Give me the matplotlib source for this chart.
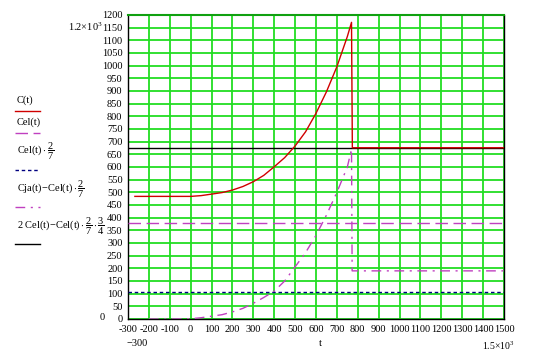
import matplotlib
matplotlib.use("Agg")
import matplotlib.pyplot as plt

plt.rcParams['font.family'] = ['Liberation Serif', 'DejaVu Serif']
plt.rcParams['mathtext.fontset'] = 'custom'
plt.rcParams['mathtext.rm'] = 'Liberation Serif'
plt.rcParams['mathtext.it'] = 'Liberation Serif:italic'

# C(t)
t_c = [-267, -200, -100, 0, 50, 100, 150, 200, 250, 300, 350, 400, 450, 500,
       550, 600, 650, 700, 750, 770, 772, 774, 900, 1100, 1300, 1500]
c_vals = [484, 484, 484, 484, 487, 493, 499, 509, 523, 542, 567, 601, 637, 683,
          739, 812, 897, 996, 1115, 1171, 925, 676, 676, 676, 676, 676]

# Cja(t) - Cel(t)*2/7
t_d = [-200, -100, 0, 50, 100, 150, 200, 250, 300, 350, 400, 450, 500, 550,
       600, 650, 700, 750, 770, 773, 900, 1100, 1300, 1500]
d_vals = [0, 0, 1, 5, 11, 17, 28, 42, 62, 85, 110, 150, 206, 262,
          330, 410, 500, 600, 670, 190, 190, 190, 190, 190]

t_flat = [-300, 1500]
cel = [378, 378]
cel_27 = [108, 108]
black = [674, 674]

xticks = list(range(-300, 1501, 100))
yticks = list(range(0, 1201, 50))

fig = plt.figure(figsize=(5.34, 3.55), dpi=100)
ax = fig.add_axes([128 / 534, 1 - 319 / 355, 376 / 534, 304 / 355])

green = '#22dd22'
ax.plot(t_c, c_vals, color='#d00000', lw=1.0, zorder=4)
ax.plot(t_flat, cel, color='#c040c0', lw=1.0, dashes=(9, 4), zorder=3)
ax.plot(t_flat, cel_27, color='#000080', lw=1.0, dashes=(2.5, 2), zorder=3)
ax.plot(t_d, d_vals, color='#c040c0', lw=1.0, dashes=(7, 4, 1.5, 4), zorder=3)
ax.plot(t_flat, black, color='black', lw=1.0, zorder=3)

ax.set_xlim(-300, 1500)
ax.set_ylim(0, 1200)
ax.set_xticks(xticks)
ax.set_xticklabels([str(v) for v in xticks])
ax.set_yticks(yticks)
ax.set_yticklabels([str(v) for v in yticks])
ax.tick_params(length=0, labelsize=7.5, pad=4)
ax.grid(True, color=green, lw=1.3)
ax.set_axisbelow(True)
for s in ['left', 'bottom', 'right']:
    ax.spines[s].set_color('black')
    ax.spines[s].set_linewidth(1.0)
ax.spines['top'].set_color('#10a010')
ax.spines['top'].set_linewidth(1.5)

# legend and limit labels in pixel coordinates
lg = fig.add_axes([0, 0, 1, 1])
lg.set_xlim(0, 534)
lg.set_ylim(355, 0)
lg.axis('off')
lg.patch.set_alpha(0)

fs = 7.5
lg.text(17, 100, 'C(t)', fontsize=fs, va='center')
lg.plot([15, 40], [111, 111], color='#d00000', lw=1.0)
lg.text(17, 122, 'Cel(t)', fontsize=fs, va='center')
lg.plot([15, 40], [133, 133], color='#c040c0', lw=1.0, dashes=(9, 4))
lg.text(17, 151, r'$\mathrm{Cel(t)}\cdot\dfrac{2}{7}$', fontsize=fs, va='center')
lg.plot([15, 40], [170, 170], color='#000080', lw=1.0, dashes=(2.5, 2))
lg.text(17, 189, r'$\mathrm{Cja(t)}\!-\!\mathrm{Cel(t)}\cdot\dfrac{2}{7}$', fontsize=fs, va='center')
lg.plot([15, 40], [207, 207], color='#c040c0', lw=1.0, dashes=(7, 4, 1.5, 4))
lg.text(17, 226, r'$\mathrm{2\ Cel(t)}\!-\!\mathrm{Cel(t)}\cdot\dfrac{2}{7}\cdot\dfrac{3}{4}$', fontsize=fs, va='center')
lg.plot([15, 40], [244, 244], color='black', lw=1.0)

lg.text(103, 27, r'1.2$\times$10$^3$', fontsize=fs, ha='right', va='center')
lg.text(102, 317, '0', fontsize=fs, ha='center', va='center')
lg.text(137, 344, '\u2212300', fontsize=fs, ha='center', va='center')
lg.text(320, 344, 't', fontsize=fs, ha='center', va='center')
lg.text(515, 346, r'1.5$\times$10$^3$', fontsize=7, ha='right', va='center')

fig.savefig('out.png', dpi=100)
